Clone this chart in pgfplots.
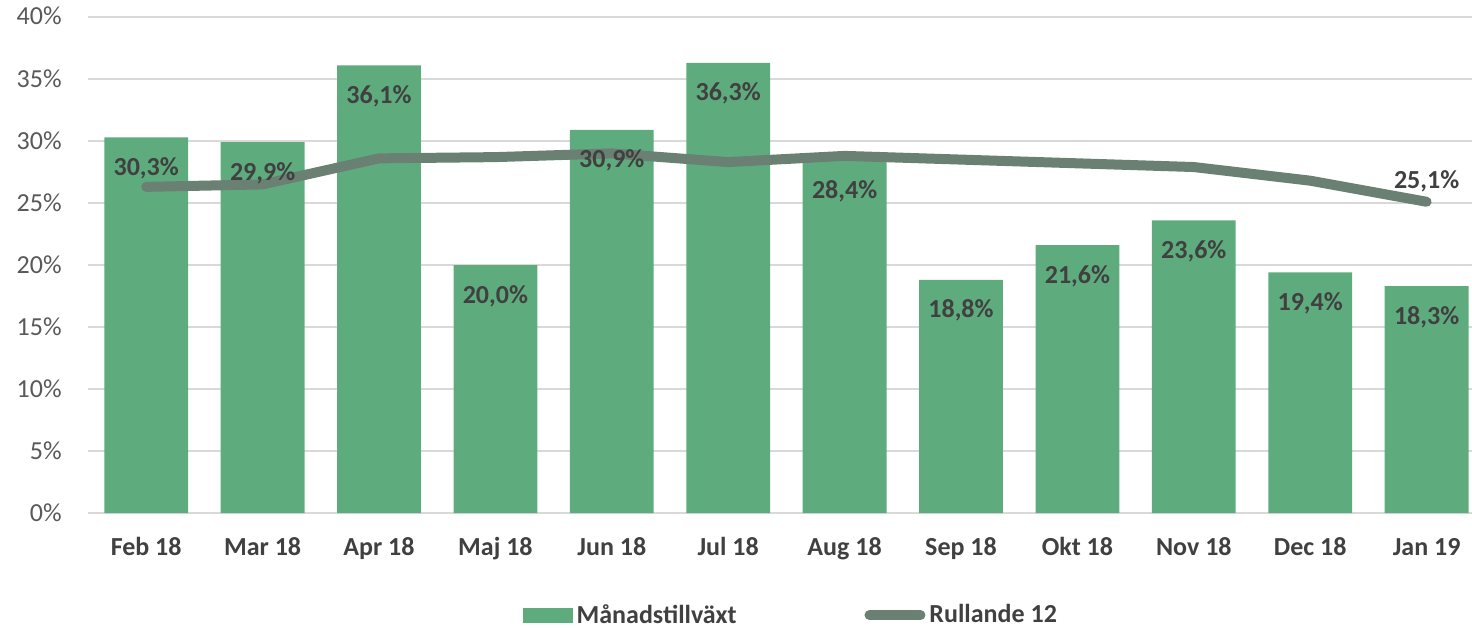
\documentclass[border=0pt]{standalone}
\usepackage{fontspec}
\setmainfont{Carlito}
\usepackage{pgfplots}
\pgfplotsset{compat=1.18}
\definecolor{barg}{HTML}{5EAC7E}
\definecolor{lineg}{HTML}{6A8072}
\definecolor{txt}{HTML}{404040}
\definecolor{ytxt}{HTML}{595959}
\definecolor{gridc}{HTML}{D9D9D9}
\newcommand\lbl{\fontsize{13}{15.6}\selectfont}
\begin{document}
\begin{tikzpicture}
\path[use as bounding box] (-44pt,-57pt) rectangle (692pt,256.5pt);
\begin{axis}[
  at={(0,0)}, anchor=south west,
  scale only axis, width=692pt, height=248pt,
  xmin=-0.5, xmax=11.39, ymin=0, ymax=40,
  clip=false,
  axis line style={draw=none},
  major tick length=0pt,
  ytick={0,5,...,40},
  ymajorgrids, grid style={gridc, line width=0.8pt},
  xtick={0,...,11},
  xticklabels={Feb 18,Mar 18,Apr 18,Maj 18,Jun 18,Jul 18,Aug 18,Sep 18,Okt 18,Nov 18,Dec 18,Jan 19},
  /pgf/number format/assume math mode=true,
  yticklabel={\pgfmathprintnumber{\tick}\%},
  yticklabel style={font=\lbl, text=ytxt, anchor=base east, inner sep=0pt, xshift=-13pt, yshift=-4pt},
  xticklabel style={font=\lbl\bfseries, text=txt, anchor=base, inner sep=0pt, yshift=-21pt},
  legend columns=2,
  legend style={at={(0.5085,-0.206)}, anchor=center, draw=none, fill=none,
    font=\lbl\bfseries, text=txt, inner sep=0pt,
    /tikz/every even column/.append style={column sep=62pt},
    nodes={inner xsep=2pt}},
]
\addplot[ybar, bar width=0.72, bar shift=0pt, fill=barg, draw=none,
  legend image code/.code={\fill[barg] (0pt,-3.75pt) rectangle (25pt,3.75pt);}]
  coordinates {(0,30.3) (1,29.9) (2,36.1) (3,20.0) (4,30.9) (5,36.3) (6,28.4) (7,18.8) (8,21.6) (9,23.6) (10,19.4) (11,18.3)};
\addlegendentry{Månadstillväxt}
\addplot[lineg, line width=5pt, line cap=round, line join=round, mark=none,
  legend image code/.code={\draw[lineg, line width=5pt, line cap=round] (2.5pt,0pt) -- (28pt,0pt);}]
  coordinates {(0,26.3) (1,26.5) (2,28.6) (3,28.7) (4,29.0) (5,28.3) (6,28.8) (7,28.5) (8,28.2) (9,27.9) (10,26.8) (11,25.1)};
\addlegendentry{Rullande 12}
\addplot[draw=none, mark=none, forget plot,
  nodes near coords={\pgfmathprintnumber[fixed,fixed zerofill,precision=1,use comma]{\pgfplotspointmeta}\%},
  every node near coord/.append style={font=\lbl\bfseries, text=txt, anchor=base, inner sep=0pt, yshift=-19pt}]
  coordinates {(0,30.3) (1,29.9) (2,36.1) (3,20.0) (4,30.9) (5,36.3) (6,28.4) (7,18.8) (8,21.6) (9,23.6) (10,19.4) (11,18.3)};
\addplot[draw=none, mark=none, forget plot,
  nodes near coords={\pgfmathprintnumber[fixed,fixed zerofill,precision=1,use comma]{\pgfplotspointmeta}\%},
  every node near coord/.append style={font=\lbl\bfseries, text=txt, anchor=base, inner sep=0pt, yshift=6.5pt}]
  coordinates {(11,25.1)};
\end{axis}
\end{tikzpicture}
\end{document}
